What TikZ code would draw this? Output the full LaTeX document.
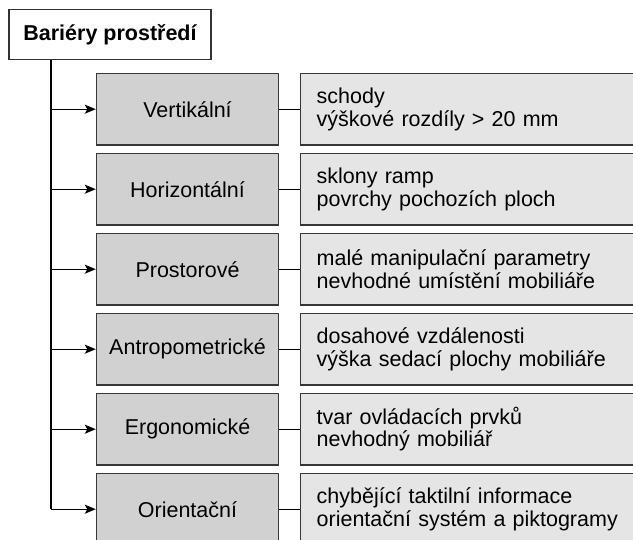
\documentclass[tikz,border=0pt]{standalone}
\usepackage{fontspec}
\setmainfont{Liberation Sans}
\usetikzlibrary{arrows.meta, positioning}

\begin{document}
\begin{tikzpicture}[x=1pt, y=-1pt,
  txt/.style={font=\fontsize{21.5}{22.5}\selectfont},
  head/.style={txt, draw=black!80, line width=1.3pt, fill=white,
    minimum width=202pt, minimum height=49.6pt, font=\fontsize{21.5}{22.5}\selectfont\bfseries},
  cat/.style={txt, draw=black!78, line width=1.4pt, fill=black!18,
    minimum width=182pt, minimum height=71.3pt},
  desc/.style={txt, draw=black!78, line width=1.4pt, fill=black!10, anchor=west,
    minimum height=71.3pt, text width=313pt, inner xsep=16pt, align=left},
  link/.style={line width=1.3pt},
  tip/.style={-{Stealth[length=11pt, width=9pt, inset=2.5pt]}, line width=1.3pt}]
\useasboundingbox (0,0) rectangle (633,540);
\clip (0,0) rectangle (633,540);

\node[head] (title) at (110,34.4) {Bariéry prostředí};

\node[cat] (vert) at (187.5,109.2) {Vertikální};
\node[cat] (horiz) at (187.5,189.2) {Horizontální};
\node[cat] (prost) at (187.5,269.2) {Prostorové};
\node[cat] (antro) at (187.5,349.2) {Antropometrické};
\node[cat] (ergo) at (187.5,429.2) {Ergonomické};
\node[cat] (orient) at (187.5,509.2) {Orientační};

\node[desc] (vertd) at (300,109.2) {schody\\výškové rozdíly > 20 mm};
\node[desc] (horizd) at (300,189.2) {sklony ramp\\povrchy pochozích ploch};
\node[desc] (prostd) at (300,269.2) {malé manipulační parametry\\nevhodné umístění mobiliáře};
\node[desc] (antrod) at (300,349.2) {dosahové vzdálenosti\\výška sedací plochy mobiliáře};
\node[desc] (ergod) at (300,429.2) {tvar ovládacích prvků\\nevhodný mobiliář};
\node[desc] (orientd) at (300,509.2) {chybějící taktilní informace\\orientační systém a piktogramy};

% trunk from the title box
\coordinate (trunk) at ([xshift=42.5pt]title.south west);
\draw[link] (trunk) -- (trunk |- orient.west);
\draw[tip] (trunk |- vert.west) -- (vert.west);
\draw[tip] (trunk |- horiz.west) -- (horiz.west);
\draw[tip] (trunk |- prost.west) -- (prost.west);
\draw[tip] (trunk |- antro.west) -- (antro.west);
\draw[tip] (trunk |- ergo.west) -- (ergo.west);
\draw[tip] (trunk |- orient.west) -- (orient.west);

\draw[link] (vert.east) -- (vertd.west);
\draw[link] (horiz.east) -- (horizd.west);
\draw[link] (prost.east) -- (prostd.west);
\draw[link] (antro.east) -- (antrod.west);
\draw[link] (ergo.east) -- (ergod.west);
\draw[link] (orient.east) -- (orientd.west);
\end{tikzpicture}
\end{document}
